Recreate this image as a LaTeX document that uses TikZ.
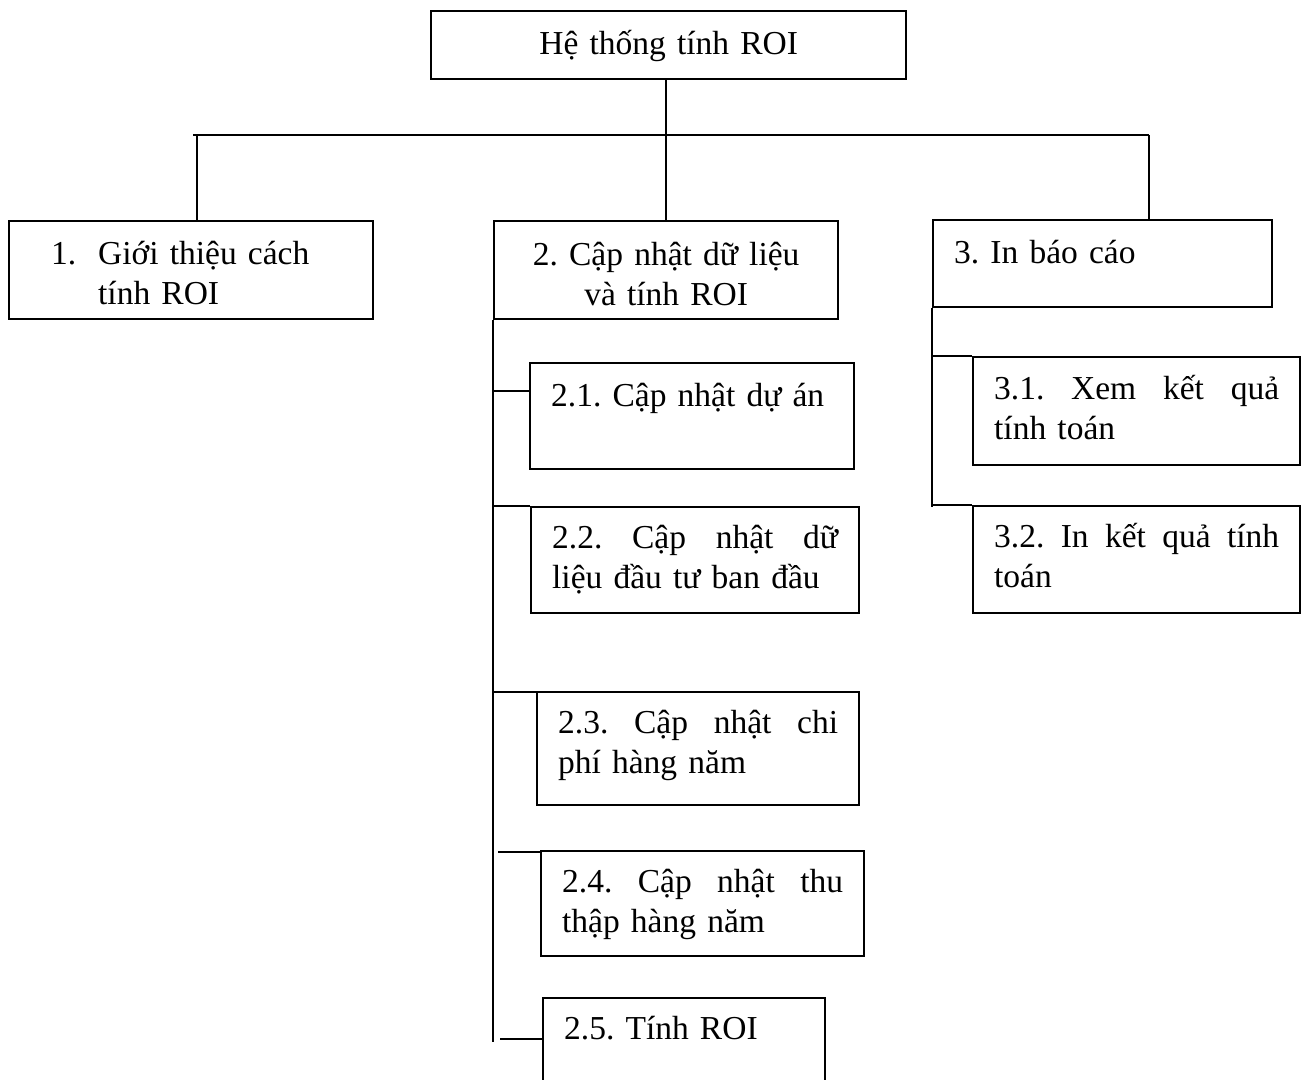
\documentclass[tikz,border=0pt]{standalone}
\usepackage{fontspec}
\setmainfont{Liberation Serif}
\usetikzlibrary{calc}
\frenchspacing

% first line of a justified paragraph: words spread evenly over the given width
\newcommand{\spreadline}[2]{\hbox to #1{#2}}
\newcommand{\wgap}{\hskip 0.25em plus 1fill\relax}

\begin{document}
\begin{tikzpicture}[x=1pt,y=1pt,
  box/.style={draw, line width=2.3pt, rectangle, anchor=north west,
    inner xsep=21pt, inner ysep=0pt, align=left,
    font=\fontsize{33.5}{40}\selectfont},
  cbox/.style={box, align=center},
  link/.style={line width=2pt}]
\clip (0,0) rectangle (1301,-1079);
\fill[white] (0,0) rectangle (1301,-1079);

% root
\node[cbox, text width=433pt, text height=43pt, text depth=25pt] (root) at (430,-10)
  {Hệ thống tính ROI};

% first level
\node[box, text width=322pt, text height=43pt, text depth=55pt] (b1) at (8,-220)
  {\hspace*{21pt}\makebox[47pt][l]{1.}Giới thiệu cách\\\hspace*{68pt}tính ROI};
\node[cbox, text width=302pt, text height=44pt, text depth=54pt] (b2) at (493,-220)
  {2. Cập nhật dữ liệu\\và tính ROI};
\node[box, text width=297pt, text height=43pt, text depth=44pt] (b3) at (932,-219)
  {3. In báo cáo};

% children of 2
\node[box, text width=282pt, text height=43pt, text depth=63pt] (b21) at (529,-362)
  {2.1. Cập nhật dự án};
\node[box, text width=286pt, text height=41pt, text depth=65pt] (b22) at (530,-506)
  {\spreadline{286pt}{2.2.\wgap Cập\wgap nhật\wgap dữ}\\liệu đầu tư ban đầu};
\node[box, text width=280pt, text height=41pt, text depth=72pt] (b23) at (536,-691)
  {\spreadline{280pt}{2.3.\wgap Cập\wgap nhật\wgap chi}\\phí hàng năm};
\node[box, text width=281pt, text height=41pt, text depth=64pt] (b24) at (540,-850)
  {\spreadline{281pt}{2.4.\wgap Cập\wgap nhật\wgap thu}\\thập hàng năm};
\node[box, text width=240pt, text height=41pt, text depth=69pt] (b25) at (542,-997)
  {2.5. Tính ROI};

% children of 3
\node[box, text width=285pt, text height=42pt, text depth=66pt] (b31) at (972,-356)
  {\spreadline{285pt}{3.1.\wgap Xem\wgap kết\wgap quả}\\tính toán};
\node[box, text width=285pt, text height=41pt, text depth=66pt] (b32) at (972,-505)
  {\spreadline{285pt}{3.2.\wgap In\wgap kết\wgap quả\wgap tính}\\toán};

% root to first level
\coordinate (busL) at (193,-135);
\coordinate (busR) at (1149,-135);
\coordinate (j1) at (197,-135);
\draw[link] (b2.north |- root.south) -- (b2.north);
\draw[link] (busL) -- (busR);
\draw[link] (j1) -- (j1 |- b1.north);
\draw[link] (busR) -- (busR |- b3.north);

% trunk of 2 and its branches
\coordinate (trunk2) at (493,-1042);
\draw[link] (b2.south west) -- (trunk2);
\coordinate (e21) at ($(b21.north west)+(0,-29)$);
\draw[link] (e21 -| trunk2) -- (e21);
\draw[link] (b22.north west -| trunk2) -- (b22.north west);
\coordinate (e23) at ($(b23.north west)+(0,-1)$);
\draw[link] (e23 -| trunk2) -- (e23);
\coordinate (e24) at ($(b24.north west)+(0,-2)$);
\draw[link] ($(e24 -| trunk2)+(5,0)$) -- (e24);
\coordinate (e25) at ($(b25.north west)+(0,-42)$);
\draw[link] ($(e25 -| trunk2)+(7,0)$) -- (e25);

% trunk of 3 and its branches
\coordinate (trunk3) at (932,-507);
\draw[link] (b3.south west) -- (trunk3);
\draw[link] (b31.north west -| trunk3) -- (b31.north west);
\draw[link] (b32.north west -| trunk3) -- (b32.north west);
\end{tikzpicture}
\end{document}
